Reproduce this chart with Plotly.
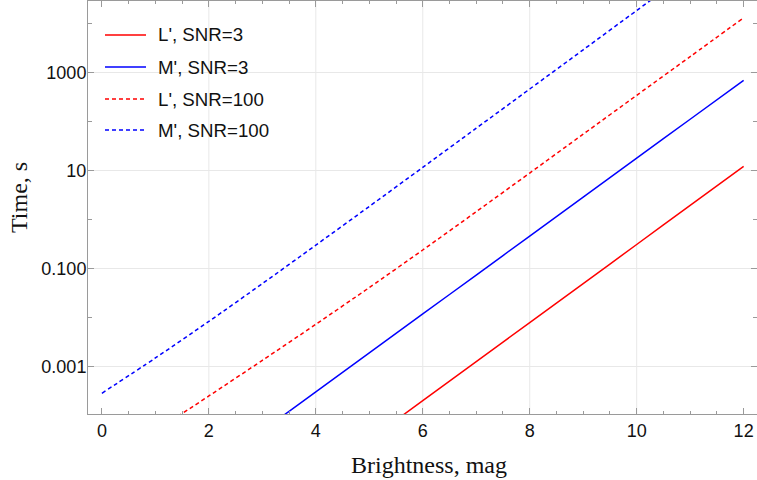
import plotly.graph_objects as go

# Brightness grid (mag) and exposure times (s) for each band / SNR case
mags = [0, 1, 2, 3, 4, 5, 6, 7, 8, 9, 10, 11, 12]

time_L_snr3 = [3.44e-9, 2.15e-8, 1.34e-7, 8.39e-7, 5.25e-6, 3.28e-5, 2.05e-4,
               1.28e-3, 8.02e-3, 0.0501, 0.313, 1.96, 12.2]
time_M_snr3 = [2.07e-7, 1.29e-6, 8.00e-6, 4.98e-5, 3.10e-4, 1.93e-3, 0.0120,
               0.0746, 0.465, 2.89, 18.0, 112, 697]
time_L_snr100 = [9.40e-6, 4.88e-5, 2.56e-4, 1.36e-3, 7.38e-3, 0.0415, 0.242,
                 1.46, 8.97, 55.6, 344, 2120, 13100]
time_M_snr100 = [2.90e-4, 1.52e-3, 8.47e-3, 0.0499, 0.304, 1.87, 11.7,
                 73.5, 463, 2920, 18450, 1.16e5, 7.35e5]

series_names = ["L', SNR=3", "M', SNR=3", "L', SNR=100", "M', SNR=100"]
series_values = [time_L_snr3, time_M_snr3, time_L_snr100, time_M_snr100]
series_colors = ["#ff0000", "#0000ff", "#ff0000", "#0000ff"]
series_dash = ["solid", "solid", "4px,3px", "4px,3px"]

y_tick_vals = [0.001, 0.1, 10, 1000]
y_tick_text = ["0.001", "0.100", "10", "1000"]
y_minor_vals = [1e-4, 0.01, 1, 100, 1e4]
x_grid_vals = [2, 4, 6, 8, 10]

W, H = 757, 480
ML, MR, MT, MB = 88, 0, 1, 66
PW, PH = W - ML - MR, H - MT - MB


def px_x(p):
    return (p - ML) / PW


def px_y(p):
    return (H - MB - p) / PH


fig = go.Figure()
for name, vals, col, dash in zip(series_names, series_values, series_colors, series_dash):
    fig.add_trace(go.Scatter(
        x=mags, y=vals, name=name, mode="lines",
        line=dict(color=col, width=1.5, dash=dash, shape="spline", smoothing=0.8),
        showlegend=False,
    ))

axis_grey = "#9a9a9a"
tick_font = dict(family="Liberation Sans, Arial, sans-serif", size=18, color="#111111")

fig.update_xaxes(
    range=[-0.26, 12.25], tickmode="linear", tick0=0, dtick=2,
    ticks="inside", ticklen=6, tickcolor=axis_grey, tickwidth=1,
    minor=dict(dtick=0.5, tick0=0, ticks="inside", ticklen=3, tickcolor=axis_grey, showgrid=False),
    showline=True, linecolor=axis_grey, linewidth=1, mirror="ticks",
    showgrid=False, zeroline=False, tickfont=tick_font,
)
fig.update_yaxes(
    type="log", range=[-3.96, 4.46],
    tickmode="array", tickvals=y_tick_vals, ticktext=y_tick_text,
    ticks="inside", ticklen=6, tickcolor=axis_grey, tickwidth=1,
    minor=dict(tickmode="array", tickvals=y_minor_vals, ticks="inside", ticklen=4,
               tickcolor=axis_grey, showgrid=False),
    showline=True, linecolor=axis_grey, linewidth=1, mirror="ticks",
    showgrid=True, gridcolor="#e8e8e8", gridwidth=1, zeroline=False, tickfont=tick_font,
    ticklabelstandoff=-3,
)

shapes = []
for gx in x_grid_vals:
    shapes.append(dict(type="line", xref="x", yref="paper", x0=gx, x1=gx, y0=0, y1=1,
                       line=dict(color="#e8e8e8", width=1), layer="below"))

# hand-drawn legend block in the upper-left corner
legend_rows_px = [35, 67, 99, 130]
annotations = []
for name, col, dash, row in zip(series_names, series_colors, series_dash, legend_rows_px):
    shapes.append(dict(type="line", xref="paper", yref="paper",
                       x0=px_x(105), x1=px_x(146), y0=px_y(row), y1=px_y(row),
                       line=dict(color=col, width=1.5, dash=dash)))
    annotations.append(dict(xref="paper", yref="paper", x=px_x(156), y=px_y(row),
                            text=name, showarrow=False, xanchor="left", yanchor="middle",
                            font=dict(family="Liberation Sans, Arial, sans-serif", size=18.7,
                                      color="#111111")))

title_font = dict(family="Liberation Serif, Times New Roman, serif", size=24, color="#111111")
annotations.append(dict(xref="paper", yref="paper", x=px_x(429), y=px_y(465),
                        text="Brightness, mag", showarrow=False, xanchor="center",
                        yanchor="middle", font=title_font))
annotations.append(dict(xref="paper", yref="paper", x=px_x(19), y=px_y(198),
                        text="Time, s", showarrow=False, xanchor="center",
                        yanchor="middle", textangle=-90, font=title_font))

fig.update_layout(
    width=W, height=H,
    margin=dict(l=ML, r=MR, t=MT, b=MB),
    paper_bgcolor="white", plot_bgcolor="white",
    shapes=shapes, annotations=annotations,
    showlegend=False,
)

fig.write_html("out.html")
